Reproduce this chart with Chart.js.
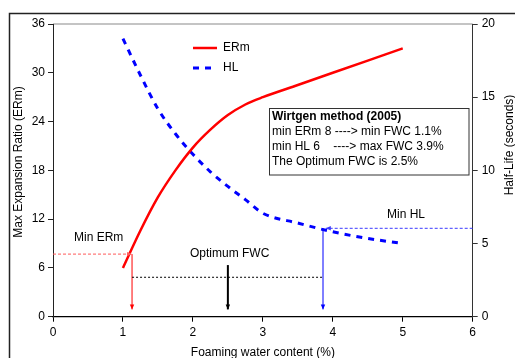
<!DOCTYPE html>
<html>
<head>
<meta charset="utf-8">
<script src="https://cdn.jsdelivr.net/npm/chart.js"></script>
<style>
  html, body { margin: 0; padding: 0; background: #fff; }
  #wrap { width: 515px; height: 358px; }
</style>
</head>
<body>
<div id="wrap"><canvas id="myChart" width="515" height="358"></canvas></div>
<script>
// values
const fwc = [1, 1.25, 1.5, 1.75, 2, 2.25, 2.5, 2.75, 3, 3.5, 4, 4.5, 5];
const ermValues = [6, 10.6, 14.7, 18.0, 20.8, 23.0, 24.8, 26.1, 27.0, 28.5, 30.0, 31.5, 33.0];
const hlValues = [19.0, 16.5, 14.2, 12.5, 11.1, 9.9, 8.9, 8.0, 7.07, 6.4, 5.8, 5.35, 5.0];
const xTicks = [0, 1, 2, 3, 4, 5, 6];
const ermTicks = [0, 6, 12, 18, 24, 30, 36];
const hlTicks = [0, 5, 10, 15, 20];

// guide lines (Wirtgen method)
const guideFwc = [1.13, 2.5, 3.86];   // min FWC, optimum FWC, max FWC
const guideErm = [7.7, 4.85, 6.35, 0.9]; // min ERm, optimum line, black arrow start, arrow tips
const guideHl = 6.04;                  // min HL
const boxLines = ['Wirtgen method (2005)', 'min ERm 8 ----> min FWC 1.1%', 'min HL 6    ----> max FWC 3.9%', 'The Optimum FWC is 2.5%'];

const FONT = "'Liberation Sans', Arial, sans-serif";

function arrow(ctx, x1, y1, x2, y2, color, width, dash) {
  ctx.save();
  ctx.strokeStyle = color;
  ctx.lineWidth = width;
  ctx.setLineDash(dash || []);
  ctx.beginPath();
  ctx.moveTo(x1, y1);
  ctx.lineTo(x2, y2);
  ctx.stroke();
  ctx.setLineDash([]);
  const a = Math.atan2(y2 - y1, x2 - x1), L = 5, W = 2.2;
  ctx.fillStyle = color;
  ctx.beginPath();
  ctx.moveTo(x2, y2);
  ctx.lineTo(x2 - L * Math.cos(a) + W * Math.sin(a), y2 - L * Math.sin(a) - W * Math.cos(a));
  ctx.lineTo(x2 - L * Math.cos(a) - W * Math.sin(a), y2 - L * Math.sin(a) + W * Math.cos(a));
  ctx.closePath();
  ctx.fill();
  ctx.restore();
}

function line(ctx, x1, y1, x2, y2, color, width, dash) {
  ctx.save();
  ctx.strokeStyle = color;
  ctx.lineWidth = width;
  ctx.setLineDash(dash || []);
  ctx.beginPath();
  ctx.moveTo(x1, y1);
  ctx.lineTo(x2, y2);
  ctx.stroke();
  ctx.restore();
}

const extras = {
  id: 'extras',
  beforeDraw(chart) {
    const ctx = chart.ctx;
    ctx.save();
    ctx.fillStyle = '#fff';
    ctx.fillRect(0, 0, chart.width, chart.height);
    ctx.strokeStyle = '#222';
    ctx.lineWidth = 1.5;
    ctx.strokeRect(9.5, 13.5, 700, 500);
    // top border of plot area
    const ca = chart.chartArea;
    ctx.strokeStyle = '#b0b0b0';
    ctx.lineWidth = 1.5;
    ctx.beginPath();
    ctx.moveTo(ca.left, ca.top);
    ctx.lineTo(ca.right, ca.top);
    ctx.stroke();
    ctx.restore();
  },
  afterDatasetsDraw(chart) {
    const ctx = chart.ctx;
    const x = chart.scales.x, y = chart.scales.y, y1 = chart.scales.y1;
    const tipY = y.getPixelForValue(guideErm[3]);

    // min ERm
    arrow(ctx, x.getPixelForValue(0), y.getPixelForValue(guideErm[0]),
      x.getPixelForValue(guideFwc[0]), y.getPixelForValue(guideErm[0]), '#ff5a5a', 1, [3, 2]);
    arrow(ctx, x.getPixelForValue(guideFwc[0]), y.getPixelForValue(guideErm[0]),
      x.getPixelForValue(guideFwc[0]), tipY, '#ff0000', 1);

    // optimum
    line(ctx, x.getPixelForValue(guideFwc[0]), y.getPixelForValue(guideErm[1]),
      x.getPixelForValue(guideFwc[2]), y.getPixelForValue(guideErm[1]), '#000', 1, [2, 2]);
    arrow(ctx, x.getPixelForValue(guideFwc[1]), y.getPixelForValue(guideErm[2]),
      x.getPixelForValue(guideFwc[1]), tipY, '#000', 2);

    // min HL
    arrow(ctx, x.getPixelForValue(6), y1.getPixelForValue(guideHl),
      x.getPixelForValue(guideFwc[2] + 0.04), y1.getPixelForValue(guideHl), '#3a3aff', 1, [3, 2]);
    arrow(ctx, x.getPixelForValue(guideFwc[2]), y1.getPixelForValue(guideHl),
      x.getPixelForValue(guideFwc[2]), tipY, '#0000ff', 1);

    ctx.save();
    ctx.font = '12px ' + FONT;
    ctx.fillStyle = '#000';
    ctx.textBaseline = 'middle';
    ctx.textAlign = 'left';
    ctx.fillText('Min ERm', 74, 238);
    ctx.fillText('Optimum FWC', 190, 254);
    ctx.fillText('Min HL', 387, 215);

    // legend
    const ds = chart.data.datasets;
    ctx.strokeStyle = ds[0].borderColor;
    ctx.lineWidth = 2.5;
    ctx.beginPath(); ctx.moveTo(193, 48); ctx.lineTo(217, 48); ctx.stroke();
    ctx.strokeStyle = ds[1].borderColor;
    ctx.lineWidth = 3;
    ctx.setLineDash(ds[1].borderDash);
    ctx.beginPath(); ctx.moveTo(193, 68); ctx.lineTo(217, 68); ctx.stroke();
    ctx.setLineDash([]);
    ctx.fillText(ds[0].label, 223, 48);
    ctx.fillText(ds[1].label, 223, 68);

    // text box
    ctx.fillStyle = '#fff';
    ctx.fillRect(269.5, 108.5, 199.5, 66.5);
    ctx.strokeStyle = '#333';
    ctx.lineWidth = 1;
    ctx.strokeRect(269.5, 108.5, 199.5, 66.5);
    ctx.fillStyle = '#000';
    boxLines.forEach((t, i) => {
      ctx.font = (i === 0 ? 'bold ' : '') + '12px ' + FONT;
      ctx.fillText(t, 272, 117 + i * 14.9);
    });

    // axis titles
    ctx.font = '12px ' + FONT;
    ctx.textAlign = 'center';
    ctx.save();
    ctx.translate(19, 162);
    ctx.rotate(-Math.PI / 2);
    ctx.fillText('Max Expansion Ratio (ERm)', 0, 0);
    ctx.restore();
    ctx.save();
    ctx.translate(510, 145);
    ctx.rotate(-Math.PI / 2);
    ctx.fillText('Half-Life (seconds)', 0, 0);
    ctx.restore();
    ctx.restore();
  }
};

const tickFont = { family: FONT, size: 12 };

const ctx = document.getElementById('myChart').getContext('2d');
const myChart = new Chart(ctx, {
  type: 'line',
  data: {
    datasets: [{
      label: 'ERm',
      data: fwc.map((v, i) => ({ x: v, y: ermValues[i] })),
      borderColor: '#ff0000',
      borderWidth: 2.5,
      pointRadius: 0,
      cubicInterpolationMode: 'monotone',
      yAxisID: 'y'
    }, {
      label: 'HL',
      data: fwc.map((v, i) => ({ x: v, y: hlValues[i] })),
      borderColor: '#0000ff',
      borderWidth: 3,
      borderDash: [6, 6],
      pointRadius: 0,
      cubicInterpolationMode: 'monotone',
      yAxisID: 'y1'
    }]
  },
  options: {
    responsive: false,
    animation: false,
    layout: { padding: { top: 24, left: 0, right: 0, bottom: 0 } },
    plugins: { legend: { display: false }, tooltip: { enabled: false } },
    scales: {
      x: {
        type: 'linear', min: 0, max: 6,
        afterBuildTicks: s => { s.ticks = xTicks.map(v => ({ value: v })); },
        afterFit: s => { s.height = 41.3; },
        grid: { drawOnChartArea: false, tickLength: 5, color: '#000' },
        border: { color: '#000', width: 1.2 },
        ticks: { font: tickFont, color: '#000', padding: 4, maxRotation: 0 },
        title: { display: true, text: 'Foaming water content (%)', font: tickFont, color: '#000', padding: { top: 0, bottom: -2 } }
      },
      y: {
        position: 'left', min: 0, max: 36,
        afterBuildTicks: s => { s.ticks = ermTicks.map(v => ({ value: v })); },
        afterFit: s => { s.width = 53; },
        grid: { drawOnChartArea: false, tickLength: 5, color: '#222' },
        border: { color: '#222', width: 1 },
        ticks: { font: tickFont, color: '#000', padding: 3 }
      },
      y1: {
        position: 'right', min: 0, max: 20,
        afterBuildTicks: s => { s.ticks = hlTicks.map(v => ({ value: v })); },
        afterFit: s => { s.width = 42.3; },
        grid: { drawOnChartArea: false, tickLength: 5, color: '#333' },
        border: { color: '#333', width: 1 },
        ticks: { font: tickFont, color: '#000', padding: 4 }
      }
    }
  },
  plugins: [extras]
});
</script>
</body>
</html>
